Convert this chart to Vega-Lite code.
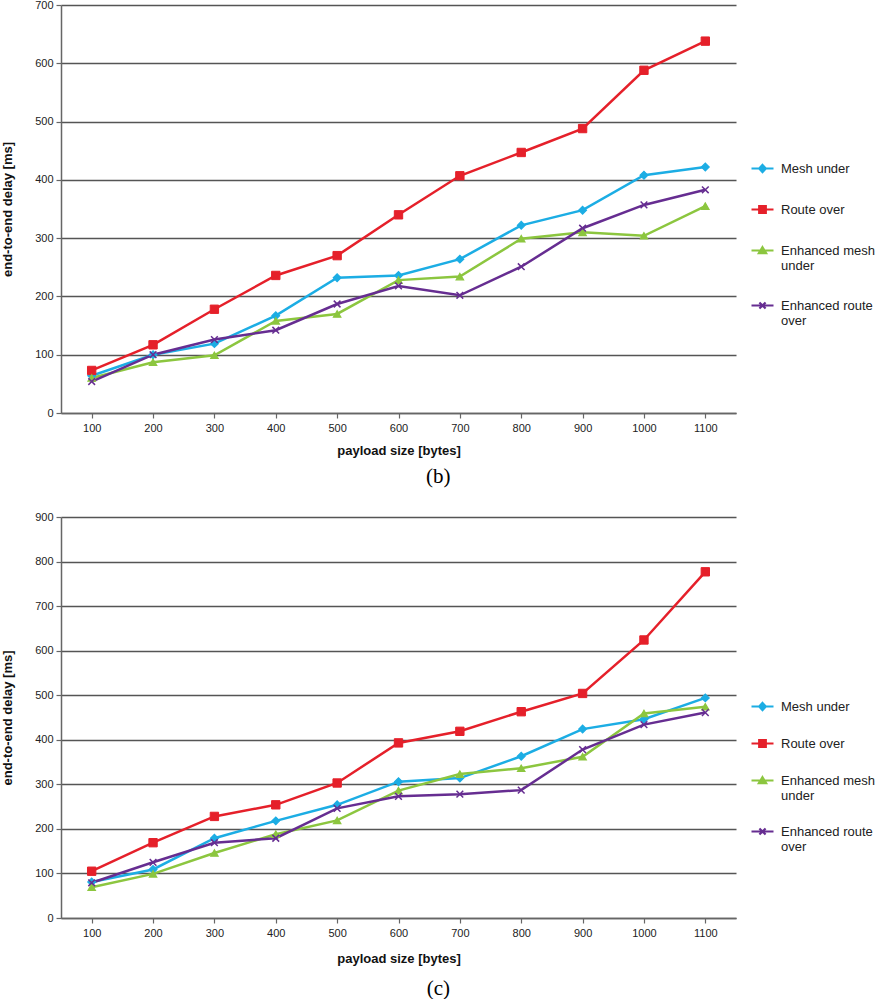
{
  "$schema": "https://vega.github.io/schema/vega-lite/v6.json",
  "padding": {"left": 1, "top": -1, "right": 0, "bottom": 0},
  "background": "white",
  "spacing": 24,
  "datasets": {
    "b": [
      {"size": 100, "series": "Mesh under", "delay": 64},
      {"size": 200, "series": "Mesh under", "delay": 100},
      {"size": 300, "series": "Mesh under", "delay": 119},
      {"size": 400, "series": "Mesh under", "delay": 167},
      {"size": 500, "series": "Mesh under", "delay": 232},
      {"size": 600, "series": "Mesh under", "delay": 236},
      {"size": 700, "series": "Mesh under", "delay": 264},
      {"size": 800, "series": "Mesh under", "delay": 322},
      {"size": 900, "series": "Mesh under", "delay": 348},
      {"size": 1000, "series": "Mesh under", "delay": 408},
      {"size": 1100, "series": "Mesh under", "delay": 422},
      {"size": 100, "series": "Route over", "delay": 73},
      {"size": 200, "series": "Route over", "delay": 117},
      {"size": 300, "series": "Route over", "delay": 178},
      {"size": 400, "series": "Route over", "delay": 236},
      {"size": 500, "series": "Route over", "delay": 270},
      {"size": 600, "series": "Route over", "delay": 340},
      {"size": 700, "series": "Route over", "delay": 407},
      {"size": 800, "series": "Route over", "delay": 447},
      {"size": 900, "series": "Route over", "delay": 488},
      {"size": 1000, "series": "Route over", "delay": 588},
      {"size": 1100, "series": "Route over", "delay": 638},
      {"size": 100, "series": "Enhanced mesh under", "delay": 60},
      {"size": 200, "series": "Enhanced mesh under", "delay": 87},
      {"size": 300, "series": "Enhanced mesh under", "delay": 99},
      {"size": 400, "series": "Enhanced mesh under", "delay": 158},
      {"size": 500, "series": "Enhanced mesh under", "delay": 170},
      {"size": 600, "series": "Enhanced mesh under", "delay": 228},
      {"size": 700, "series": "Enhanced mesh under", "delay": 234},
      {"size": 800, "series": "Enhanced mesh under", "delay": 299},
      {"size": 900, "series": "Enhanced mesh under", "delay": 310},
      {"size": 1000, "series": "Enhanced mesh under", "delay": 304},
      {"size": 1100, "series": "Enhanced mesh under", "delay": 355},
      {"size": 100, "series": "Enhanced route over", "delay": 54},
      {"size": 200, "series": "Enhanced route over", "delay": 100},
      {"size": 300, "series": "Enhanced route over", "delay": 126},
      {"size": 400, "series": "Enhanced route over", "delay": 142},
      {"size": 500, "series": "Enhanced route over", "delay": 187},
      {"size": 600, "series": "Enhanced route over", "delay": 218},
      {"size": 700, "series": "Enhanced route over", "delay": 202},
      {"size": 800, "series": "Enhanced route over", "delay": 251},
      {"size": 900, "series": "Enhanced route over", "delay": 317},
      {"size": 1000, "series": "Enhanced route over", "delay": 357},
      {"size": 1100, "series": "Enhanced route over", "delay": 383}
    ],
    "c": [
      {"size": 100, "series": "Mesh under", "delay": 81},
      {"size": 200, "series": "Mesh under", "delay": 109},
      {"size": 300, "series": "Mesh under", "delay": 179},
      {"size": 400, "series": "Mesh under", "delay": 218},
      {"size": 500, "series": "Mesh under", "delay": 254},
      {"size": 600, "series": "Mesh under", "delay": 306},
      {"size": 700, "series": "Mesh under", "delay": 314},
      {"size": 800, "series": "Mesh under", "delay": 363},
      {"size": 900, "series": "Mesh under", "delay": 424},
      {"size": 1000, "series": "Mesh under", "delay": 446},
      {"size": 1100, "series": "Mesh under", "delay": 494},
      {"size": 100, "series": "Route over", "delay": 105},
      {"size": 200, "series": "Route over", "delay": 169},
      {"size": 300, "series": "Route over", "delay": 228},
      {"size": 400, "series": "Route over", "delay": 254},
      {"size": 500, "series": "Route over", "delay": 303},
      {"size": 600, "series": "Route over", "delay": 393},
      {"size": 700, "series": "Route over", "delay": 419},
      {"size": 800, "series": "Route over", "delay": 463},
      {"size": 900, "series": "Route over", "delay": 504},
      {"size": 1000, "series": "Route over", "delay": 624},
      {"size": 1100, "series": "Route over", "delay": 777},
      {"size": 100, "series": "Enhanced mesh under", "delay": 69},
      {"size": 200, "series": "Enhanced mesh under", "delay": 99},
      {"size": 300, "series": "Enhanced mesh under", "delay": 146},
      {"size": 400, "series": "Enhanced mesh under", "delay": 188},
      {"size": 500, "series": "Enhanced mesh under", "delay": 219},
      {"size": 600, "series": "Enhanced mesh under", "delay": 286},
      {"size": 700, "series": "Enhanced mesh under", "delay": 323},
      {"size": 800, "series": "Enhanced mesh under", "delay": 336},
      {"size": 900, "series": "Enhanced mesh under", "delay": 362},
      {"size": 1000, "series": "Enhanced mesh under", "delay": 459},
      {"size": 1100, "series": "Enhanced mesh under", "delay": 474},
      {"size": 100, "series": "Enhanced route over", "delay": 79},
      {"size": 200, "series": "Enhanced route over", "delay": 125},
      {"size": 300, "series": "Enhanced route over", "delay": 169},
      {"size": 400, "series": "Enhanced route over", "delay": 179},
      {"size": 500, "series": "Enhanced route over", "delay": 246},
      {"size": 600, "series": "Enhanced route over", "delay": 273},
      {"size": 700, "series": "Enhanced route over", "delay": 278},
      {"size": 800, "series": "Enhanced route over", "delay": 287},
      {"size": 900, "series": "Enhanced route over", "delay": 378},
      {"size": 1000, "series": "Enhanced route over", "delay": 434},
      {"size": 1100, "series": "Enhanced route over", "delay": 461}
    ]
  },
  "resolve": {
    "scale": {"color": "independent"},
    "legend": {"color": "independent"}
  },
  "vconcat": [
    {
      "width": 675,
      "height": 408,
      "data": {"name": "b"},
      "title": {"text": "(b)", "orient": "bottom", "frame": "bounds", "anchor": "middle", "font": "Liberation Serif", "fontSize": 21, "fontWeight": "normal", "color": "black", "offset": 9},
      "encoding": {
        "x": {"field": "size", "type": "ordinal", "scale": {"type": "point", "padding": 0.5, "domain": [100, 200, 300, 400, 500, 600, 700, 800, 900, 1000, 1100]}, "axis": {"title": "payload size [bytes]", "labelAngle": 0}},
        "y": {"field": "delay", "type": "quantitative", "scale": {"domain": [0, 700], "nice": false}, "axis": {"title": "end-to-end delay [ms]", "values": [0, 100, 200, 300, 400, 500, 600, 700], "grid": true}}
      },
      "layer": [
        {
          "mark": {"type": "line", "strokeWidth": 2.5},
          "encoding": {
            "color": {
              "field": "series", "type": "nominal",
              "scale": {"domain": ["Mesh under", "Route over", "Enhanced mesh under", "Enhanced route over"], "range": ["#1CADE4", "#E5202A", "#8CC63F", "#662D91"]},
              "legend": {
                "title": null, "orient": "none", "legendX": 689, "legendY": 151, "rowPadding": 20,
                "symbolType": "M-1,0H1",
                "labelExpr": "datum.label == 'Enhanced mesh under' ? 'Enhanced mesh|under' : datum.label == 'Enhanced route over' ? 'Enhanced route|over' : datum.label",
                "encode": {
                  "labels": {"update": {"lineBreak": {"value": "|"}}},
                  "symbols": {"update": {
                    "shape": {"signal": "datum.value == 'Mesh under' ? 'M-1,0H1M0,-0.33L0.3,0L0,0.33L-0.3,0Z' : datum.value == 'Route over' ? 'M-1,0H1M-0.3,-0.3H0.3V0.3H-0.3Z' : datum.value == 'Enhanced mesh under' ? 'M-1,0H1M0,-0.3L0.33,0.25H-0.33Z' : 'M-1,0H1M-0.28,-0.28L0.28,0.28M0.28,-0.28L-0.28,0.28'"},
                    "fill": {"signal": "datum.value == 'Mesh under' ? '#1CADE4' : datum.value == 'Route over' ? '#E5202A' : datum.value == 'Enhanced mesh under' ? '#8CC63F' : '#662D91'"},
                    "stroke": {"signal": "datum.value == 'Mesh under' ? '#1CADE4' : datum.value == 'Route over' ? '#E5202A' : datum.value == 'Enhanced mesh under' ? '#8CC63F' : '#662D91'"},
                    "strokeWidth": {"value": 2.2},
                    "opacity": {"value": 1},
                    "fillOpacity": {"value": 1},
                    "strokeOpacity": {"value": 1}
                  }}
                }
              }
            }
          }
        },
        {"transform": [{"filter": "datum.series == 'Mesh under'"}], "mark": {"type": "point", "shape": "diamond", "filled": true, "fill": "#1CADE4", "stroke": "#1CADE4", "strokeWidth": 1.2, "size": 60, "opacity": 1}},
        {"transform": [{"filter": "datum.series == 'Route over'"}], "mark": {"type": "point", "shape": "square", "filled": true, "fill": "#E5202A", "stroke": "#E5202A", "strokeWidth": 1, "size": 70, "opacity": 1}},
        {"transform": [{"filter": "datum.series == 'Enhanced mesh under'"}], "mark": {"type": "point", "shape": "triangle-up", "filled": true, "fill": "#8CC63F", "stroke": "#8CC63F", "strokeWidth": 1.2, "size": 55, "opacity": 1}},
        {"transform": [{"filter": "datum.series == 'Enhanced route over'"}], "mark": {"type": "point", "shape": "M-1,-1L1,1M1,-1L-1,1", "filled": false, "stroke": "#662D91", "strokeWidth": 1.5, "size": 45, "opacity": 1}}
      ]
    },
    {
      "width": 675,
      "height": 401,
      "data": {"name": "c"},
      "title": {"text": "(c)", "orient": "bottom", "frame": "bounds", "anchor": "middle", "font": "Liberation Serif", "fontSize": 21, "fontWeight": "normal", "color": "black", "offset": 13},
      "encoding": {
        "x": {"field": "size", "type": "ordinal", "scale": {"type": "point", "padding": 0.5, "domain": [100, 200, 300, 400, 500, 600, 700, 800, 900, 1000, 1100]}, "axis": {"title": "payload size [bytes]", "labelAngle": 0, "titlePadding": 14}},
        "y": {"field": "delay", "type": "quantitative", "scale": {"domain": [0, 900], "nice": false}, "axis": {"title": "end-to-end delay [ms]", "values": [0, 100, 200, 300, 400, 500, 600, 700, 800, 900], "grid": true}}
      },
      "layer": [
        {
          "mark": {"type": "line", "strokeWidth": 2.5},
          "encoding": {
            "color": {
              "field": "series", "type": "nominal",
              "scale": {"domain": ["Mesh under", "Route over", "Enhanced mesh under", "Enhanced route over"], "range": ["#1CADE4", "#E5202A", "#8CC63F", "#662D91"]},
              "legend": {
                "title": null, "orient": "none", "legendX": 689, "legendY": 177, "rowPadding": 16,
                "symbolType": "M-1,0H1",
                "labelExpr": "datum.label == 'Enhanced mesh under' ? 'Enhanced mesh|under' : datum.label == 'Enhanced route over' ? 'Enhanced route|over' : datum.label",
                "encode": {
                  "labels": {"update": {"lineBreak": {"value": "|"}}},
                  "symbols": {"update": {
                    "shape": {"signal": "datum.value == 'Mesh under' ? 'M-1,0H1M0,-0.33L0.3,0L0,0.33L-0.3,0Z' : datum.value == 'Route over' ? 'M-1,0H1M-0.3,-0.3H0.3V0.3H-0.3Z' : datum.value == 'Enhanced mesh under' ? 'M-1,0H1M0,-0.3L0.33,0.25H-0.33Z' : 'M-1,0H1M-0.28,-0.28L0.28,0.28M0.28,-0.28L-0.28,0.28'"},
                    "fill": {"signal": "datum.value == 'Mesh under' ? '#1CADE4' : datum.value == 'Route over' ? '#E5202A' : datum.value == 'Enhanced mesh under' ? '#8CC63F' : '#662D91'"},
                    "stroke": {"signal": "datum.value == 'Mesh under' ? '#1CADE4' : datum.value == 'Route over' ? '#E5202A' : datum.value == 'Enhanced mesh under' ? '#8CC63F' : '#662D91'"},
                    "strokeWidth": {"value": 2.2},
                    "opacity": {"value": 1},
                    "fillOpacity": {"value": 1},
                    "strokeOpacity": {"value": 1}
                  }}
                }
              }
            }
          }
        },
        {"transform": [{"filter": "datum.series == 'Mesh under'"}], "mark": {"type": "point", "shape": "diamond", "filled": true, "fill": "#1CADE4", "stroke": "#1CADE4", "strokeWidth": 1.2, "size": 60, "opacity": 1}},
        {"transform": [{"filter": "datum.series == 'Route over'"}], "mark": {"type": "point", "shape": "square", "filled": true, "fill": "#E5202A", "stroke": "#E5202A", "strokeWidth": 1, "size": 70, "opacity": 1}},
        {"transform": [{"filter": "datum.series == 'Enhanced mesh under'"}], "mark": {"type": "point", "shape": "triangle-up", "filled": true, "fill": "#8CC63F", "stroke": "#8CC63F", "strokeWidth": 1.2, "size": 55, "opacity": 1}},
        {"transform": [{"filter": "datum.series == 'Enhanced route over'"}], "mark": {"type": "point", "shape": "M-1,-1L1,1M1,-1L-1,1", "filled": false, "stroke": "#662D91", "strokeWidth": 1.5, "size": 45, "opacity": 1}}
      ]
    }
  ],
  "config": {
    "font": "Liberation Sans",
    "view": {"stroke": null},
    "axis": {
      "domainColor": "#666666", "domainWidth": 1.5,
      "tickColor": "#666666", "tickWidth": 1.2, "tickSize": 5,
      "gridColor": "#555555", "gridWidth": 1.5, "gridOpacity": 1,
      "labelFont": "Liberation Sans", "labelFontSize": 11, "labelColor": "#222222", "labelPadding": 3,
      "titleFont": "Liberation Sans", "titleFontSize": 13, "titleFontWeight": "bold", "titleColor": "#111111"
    },
    "axisX": {"grid": false, "titlePadding": 11, "labelPadding": 4},
    "axisY": {"titlePadding": 20},
    "legend": {
      "labelFont": "Liberation Sans", "labelFontSize": 13, "labelColor": "#222222", "labelLimit": 200,
      "symbolSize": 484, "labelOffset": 6
    }
  }
}
